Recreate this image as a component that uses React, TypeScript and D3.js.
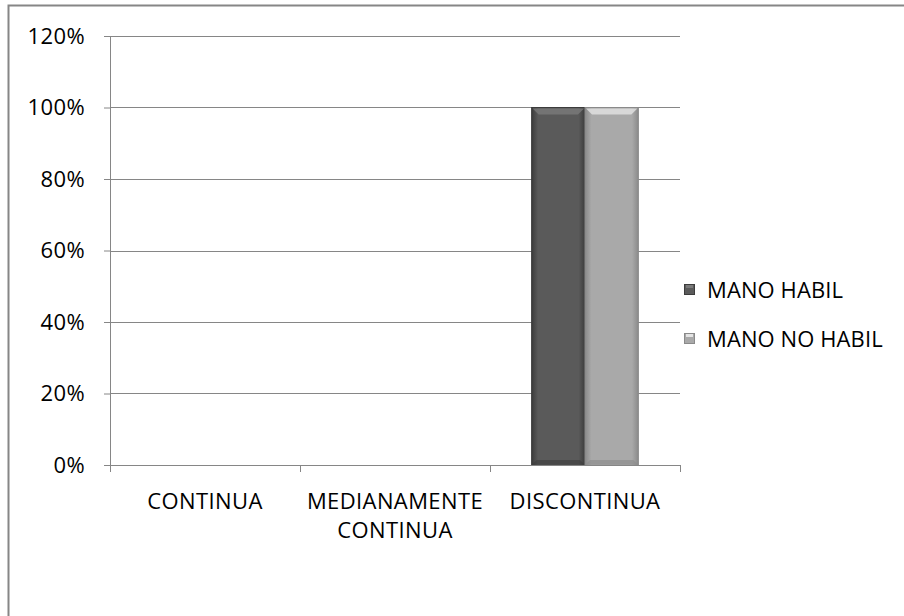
import React, { useRef, useEffect } from 'react';
import * as d3 from 'd3';

const categories = ['CONTINUA', 'MEDIANAMENTE CONTINUA', 'DISCONTINUA'];
const seriesNames = ['MANO HABIL', 'MANO NO HABIL'];
const manoHabil = [0, 0, 1];
const manoNoHabil = [0, 0, 1];
const yTicks = [0, 0.2, 0.4, 0.6, 0.8, 1, 1.2];

const seriesColors = [
    { base: '#5a5a5a', dark: '#3c3c3c', light: '#7a7a7a' },
    { base: '#a9a9a9', dark: '#8a8a8a', light: '#e4e4e4' },
];

const App = () => {
    const svgRef = useRef<SVGSVGElement>(null);

    useEffect(() => {
        const svg = d3.select(svgRef.current);
        svg.selectAll('*').remove();

        const width = 904;
        const height = 616;
        const margin = { top: 36, left: 110, right: 224, bottom: 151 };
        const chartWidth = width - margin.left - margin.right;
        const chartHeight = height - margin.top - margin.bottom;
        const font = '"Open Sans", sans-serif';
        const fontSize = '22px';
        const spacing = '0.4px';

        // outer frame
        svg.append('rect')
            .attr('x', 8.5).attr('y', 5.5)
            .attr('width', 920).attr('height', 640)
            .attr('fill', '#fff').attr('stroke', '#868686').attr('stroke-width', 2);

        const defs = svg.append('defs');
        seriesColors.forEach((c, i) => {
            const g = defs.append('linearGradient').attr('id', `grad${i}`)
                .attr('x1', '0').attr('x2', '1').attr('y1', '0').attr('y2', '0');
            g.append('stop').attr('offset', '0%').attr('stop-color', c.dark);
            g.append('stop').attr('offset', '12%').attr('stop-color', c.base);
            g.append('stop').attr('offset', '88%').attr('stop-color', c.base);
            g.append('stop').attr('offset', '100%').attr('stop-color', c.dark);
        });

        const chart = svg.append('g')
            .attr('transform', `translate(${margin.left},${margin.top})`);

        const x = d3.scaleBand().domain(categories).range([0, chartWidth]);
        const x1 = d3.scaleBand().domain(seriesNames).range([0, x.bandwidth()]).paddingInner(0).paddingOuter(0.78);
        const y = d3.scaleLinear().domain([0, 1.2]).range([chartHeight, 0]);

        // gridlines
        chart.selectAll('.grid')
            .data(yTicks.filter(t => t > 0))
            .enter().append('line')
            .attr('x1', 0).attr('x2', chartWidth)
            .attr('y1', d => Math.round(y(d)) + 0.5).attr('y2', d => Math.round(y(d)) + 0.5)
            .attr('stroke', '#868686');

        // y axis
        const yAxis = chart.append('g').call(
            d3.axisLeft(y).tickValues(yTicks).tickSize(6).tickFormat(d => `${Math.round(+d * 100)}%`)
        );
        yAxis.select('.domain').attr('stroke', '#868686').attr('d', `M0.5,0V${chartHeight}`);
        yAxis.selectAll('.tick line').attr('stroke', '#868686');
        yAxis.selectAll('.tick text')
            .attr('x', -25)
            .attr('fill', '#000')
            .style('font-family', font).style('font-size', fontSize).style('letter-spacing', spacing);

        // bars
        const seriesData = [manoHabil, manoNoHabil];
        seriesData.forEach((vals, si) => {
            const c = seriesColors[si];
            vals.forEach((v, ci) => {
                if (v <= 0) return;
                const bx = x(categories[ci])! + x1(seriesNames[si])!;
                const bw = x1.bandwidth();
                const by = y(v);
                const bh = chartHeight - by;
                const g = chart.append('g');
                g.append('rect').attr('x', bx).attr('y', by).attr('width', bw).attr('height', bh)
                    .attr('fill', `url(#grad${si})`).attr('stroke', c.dark).attr('stroke-width', 1);
                // top bevel
                g.append('path')
                    .attr('d', `M${bx + 1},${by + 1}L${bx + bw - 1},${by + 1}L${bx + bw - 7},${by + 7}L${bx + 7},${by + 7}Z`)
                    .attr('fill', c.light).attr('opacity', 0.8);
                // bottom bevel
                g.append('path')
                    .attr('d', `M${bx + 1},${by + bh - 1}L${bx + bw - 1},${by + bh - 1}L${bx + bw - 5},${by + bh - 5}L${bx + 5},${by + bh - 5}Z`)
                    .attr('fill', c.dark).attr('opacity', 0.6);
            });
        });

        // x axis
        const xAxisG = chart.append('g').attr('transform', `translate(0,${chartHeight})`);
        xAxisG.append('line').attr('x1', 0).attr('x2', chartWidth).attr('y1', 0.5).attr('y2', 0.5).attr('stroke', '#868686');
        const bounds = [0, ...categories.map(cat => x(cat)! + x.bandwidth())];
        xAxisG.selectAll('.xtick').data(bounds).enter().append('line')
            .attr('x1', d => Math.round(d) + 0.5).attr('x2', d => Math.round(d) + 0.5)
            .attr('y1', 0).attr('y2', 7).attr('stroke', '#868686');

        const labelLines: Record<string, string[]> = {
            'CONTINUA': ['CONTINUA'],
            'MEDIANAMENTE CONTINUA': ['MEDIANAMENTE', 'CONTINUA'],
            'DISCONTINUA': ['DISCONTINUA'],
        };
        categories.forEach(cat => {
            const t = xAxisG.append('text')
                .attr('x', x(cat)! + x.bandwidth() / 2)
                .attr('y', 44)
                .attr('text-anchor', 'middle')
                .style('font-family', font).style('font-size', fontSize).style('letter-spacing', spacing)
                .attr('fill', '#000');
            labelLines[cat].forEach((line, i) => {
                t.append('tspan').attr('x', x(cat)! + x.bandwidth() / 2).attr('dy', i === 0 ? 0 : 29).text(line);
            });
        });

        // legend
        const legend = svg.append('g').attr('transform', 'translate(684,284)');
        seriesNames.forEach((name, i) => {
            const c = seriesColors[i];
            const row = legend.append('g').attr('transform', `translate(0,${i * 49})`);
            row.append('rect').attr('x', 0.5).attr('y', 0.5).attr('width', 10).attr('height', 10)
                .attr('fill', c.base).attr('stroke', c.dark);
            row.append('rect').attr('x', 2).attr('y', 1).attr('width', 7).attr('height', 3).attr('fill', c.light);
            row.append('text').attr('x', 23).attr('y', 6).attr('dy', '0.35em')
                .style('font-family', font).style('font-size', fontSize).style('letter-spacing', '0.1px')
                .attr('fill', '#000')
                .text(name);
        });
    }, []);

    return (
        <svg ref={svgRef} width={904} height={616}
            style={{ position: 'absolute', left: 0, top: 0, display: 'block' }} />
    );
};

export default App;
